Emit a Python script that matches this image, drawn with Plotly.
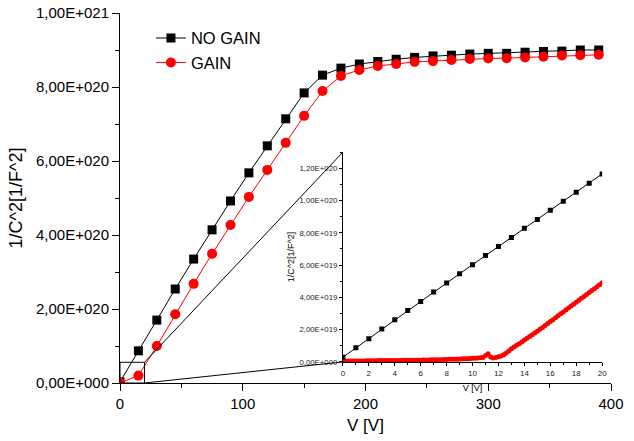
import plotly.graph_objects as go

# ---------------- data ----------------
main_v = [0, 15, 30, 45, 60, 75, 90, 105, 120, 135, 150, 165, 180, 195, 210,
          225, 240, 255, 270, 285, 300, 315, 330, 345, 360, 375, 390]
no_gain_e20 = [0.03, 0.87, 1.70, 2.54, 3.35, 4.14, 4.92, 5.68, 6.41, 7.14, 7.84,
               8.32, 8.51, 8.62, 8.69, 8.75, 8.80, 8.84, 8.86, 8.89, 8.91, 8.91,
               8.94, 8.96, 8.97, 9.00, 9.00]
gain_e20 = [0.005, 0.20, 1.00, 1.86, 2.68, 3.49, 4.27, 5.03, 5.76, 6.49, 7.22,
            7.89, 8.30, 8.46, 8.57, 8.62, 8.68, 8.70, 8.73, 8.76, 8.77, 8.78,
            8.80, 8.82, 8.85, 8.86, 8.87]

inset_v_ng = list(range(0, 21))
inset_no_gain_e19 = [0.29, 0.87, 1.44, 2.04, 2.62, 3.18, 3.75, 4.33, 4.89, 5.46,
                     6.02, 6.60, 7.15, 7.71, 8.29, 8.82, 9.40, 9.96, 10.52,
                     11.07, 11.65]

inset_v_g = [round(i * 0.2, 1) for i in range(101)]
inset_gain_e19 = [
    0.05, 0.05, 0.05, 0.05, 0.06, 0.06, 0.06, 0.06, 0.06, 0.07,
    0.07, 0.07, 0.07, 0.07, 0.08, 0.08, 0.08, 0.08, 0.08, 0.09,
    0.09, 0.09, 0.09, 0.10, 0.10, 0.10, 0.10, 0.11, 0.11, 0.11,
    0.11, 0.12, 0.12, 0.12, 0.13, 0.13, 0.13, 0.14, 0.14, 0.15,
    0.15, 0.16, 0.16, 0.17, 0.17, 0.18, 0.19, 0.19, 0.20, 0.21,
    0.22, 0.23, 0.24, 0.26, 0.28, 0.40, 0.50, 0.30, 0.24, 0.27,
    0.32, 0.37, 0.45, 0.55, 0.68, 0.82, 0.92, 1.03, 1.13, 1.24,
    1.35, 1.46, 1.57, 1.68, 1.79, 1.90, 2.02, 2.14, 2.26, 2.38,
    2.50, 2.62, 2.74, 2.86, 2.98, 3.10, 3.22, 3.34, 3.46, 3.58,
    3.70, 3.82, 3.94, 4.06, 4.18, 4.30, 4.42, 4.54, 4.66, 4.78,
    4.90]

main_ytickvals = [0, 2e20, 4e20, 6e20, 8e20, 1e21]
main_yticktext = ["0,00E+000", "2,00E+020", "4,00E+020", "6,00E+020",
                  "8,00E+020", "1,00E+021"]
main_xtickvals = [0, 100, 200, 300, 400]

inset_ytickvals = [0, 2e19, 4e19, 6e19, 8e19, 1e20, 1.2e20]
inset_yticktext = ["0,00E+000", "2,00E+019", "4,00E+019", "6,00E+019",
                   "8,00E+019", "1,00E+020", "1,20E+020"]
inset_xtickvals = [0, 2, 4, 6, 8, 10, 12, 14, 16, 18, 20]

# zoom window in the main chart
zoom_x1 = 20
zoom_y1 = 5.6e19

# layout geometry
inset_xdom = [0.454, 0.982]
inset_ydom = [0.057, 0.624]
main_xrange = [0, 400]
main_yrange = [0, 1e21]
inset_xrange = [0, 20]
inset_yrange = [0, 1.3e20]

FONT = "Liberation Sans, Arial, sans-serif"
RED = "#ff0000"

fig = go.Figure()

fig.add_trace(go.Scatter(
    x=main_v, y=[v * 1e20 for v in no_gain_e20], name="NO GAIN",
    mode="lines+markers", line=dict(color="black", width=1),
    marker=dict(symbol="square", size=9, color="black"),
    xaxis="x", yaxis="y"))
fig.add_trace(go.Scatter(
    x=main_v, y=[v * 1e20 for v in gain_e20], name="GAIN",
    mode="lines+markers", line=dict(color=RED, width=1),
    marker=dict(symbol="circle", size=10, color=RED),
    xaxis="x", yaxis="y"))

fig.add_trace(go.Scatter(
    x=inset_v_g, y=[v * 1e19 for v in inset_gain_e19], showlegend=False,
    mode="lines+markers", line=dict(color=RED, width=1),
    marker=dict(symbol="circle", size=5, color=RED),
    xaxis="x2", yaxis="y2"))
fig.add_trace(go.Scatter(
    x=inset_v_ng, y=[v * 1e19 for v in inset_no_gain_e19], showlegend=False,
    mode="lines+markers", line=dict(color="black", width=1),
    marker=dict(symbol="square", size=5, color="black"),
    xaxis="x2", yaxis="y2"))

axis_common = dict(showgrid=False, zeroline=False, showline=True,
                   linecolor="black", linewidth=1, tickcolor="black")

fig.update_layout(
    width=634, height=441,
    margin=dict(l=120, r=23, t=13, b=58),
    paper_bgcolor="white", plot_bgcolor="white",
    font=dict(family=FONT, color="black"),
    xaxis=dict(domain=[0, 1], range=main_xrange, anchor="y",
               tickvals=main_xtickvals, ticks="outside", ticklen=7,
               tickfont=dict(size=15),
               minor=dict(dtick=50, ticks="outside", ticklen=4, tickcolor="black"),
               title=dict(text="V [V]", font=dict(size=17), standoff=8),
               automargin=False, **axis_common),
    yaxis=dict(domain=[0, 1], range=main_yrange, anchor="x",
               tickvals=main_ytickvals, ticktext=main_yticktext,
               ticks="outside", ticklen=7, tickfont=dict(size=15),
               minor=dict(dtick=1e20, ticks="outside", ticklen=4, tickcolor="black"),
               title=dict(text="1/C^2[1/F^2]", font=dict(size=18), standoff=8),
               automargin=False, **axis_common),
    xaxis3=dict(overlaying="x", side="top", anchor="y", range=main_xrange,
                tickvals=main_xtickvals, ticks="inside", ticklen=7,
                showticklabels=False,
                minor=dict(dtick=50, ticks="inside", ticklen=4, tickcolor="black"),
                **axis_common),
    yaxis3=dict(overlaying="y", side="right", anchor="x", range=main_yrange,
                tickvals=main_ytickvals, ticks="inside", ticklen=7,
                showticklabels=False,
                minor=dict(dtick=1e20, ticks="inside", ticklen=4, tickcolor="black"),
                **axis_common),
    xaxis2=dict(domain=inset_xdom, range=inset_xrange, anchor="y2",
                tickvals=inset_xtickvals, ticks="outside", ticklen=3,
                tickfont=dict(size=8, color="#222"),
                minor=dict(dtick=1, ticks="outside", ticklen=2, tickcolor="black"),
                title=dict(text="V [V]", font=dict(size=9), standoff=8),
                automargin=False, **axis_common),
    yaxis2=dict(domain=inset_ydom, range=inset_yrange, anchor="x2",
                tickvals=inset_ytickvals, ticktext=inset_yticktext,
                ticks="outside", ticklen=3, tickfont=dict(size=7.8, color="#222"),
                minor=dict(dtick=1e19, ticks="outside", ticklen=2, tickcolor="black"),
                title=dict(text="1/C^2[1/F^2]", font=dict(size=9), standoff=3),
                automargin=False, **axis_common),
    xaxis4=dict(overlaying="x2", side="top", anchor="y2", range=inset_xrange,
                tickvals=inset_xtickvals, ticks="inside", ticklen=3,
                showticklabels=False,
                minor=dict(dtick=1, ticks="inside", ticklen=2, tickcolor="black"),
                **axis_common),
    yaxis4=dict(overlaying="y2", side="right", anchor="x2", range=inset_yrange,
                tickvals=inset_ytickvals, ticks="inside", ticklen=3,
                showticklabels=False,
                minor=dict(dtick=1e19, ticks="inside", ticklen=2, tickcolor="black"),
                **axis_common),
    legend=dict(x=0.063, y=0.979, xanchor="left", yanchor="top",
                bgcolor="rgba(0,0,0,0)", font=dict(size=16.5),
                tracegroupgap=0, itemsizing="trace"),
    showlegend=True,
)

# zoom rectangle and connector lines
fig.add_shape(type="rect", xref="x", yref="y", x0=0, x1=zoom_x1, y0=0, y1=zoom_y1,
              line=dict(color="black", width=1))
zx = zoom_x1 / (main_xrange[1] - main_xrange[0])
zy = zoom_y1 / (main_yrange[1] - main_yrange[0])
fig.add_shape(type="line", xref="paper", yref="paper",
              x0=zx, y0=zy, x1=inset_xdom[0], y1=inset_ydom[1],
              line=dict(color="black", width=1))
fig.add_shape(type="line", xref="paper", yref="paper",
              x0=zx, y0=0, x1=inset_xdom[0], y1=inset_ydom[0],
              line=dict(color="black", width=1))

fig.write_html("out.html", config={"displayModeBar": False},
               post_script="document.body.style.margin='0';document.body.style.padding='0';")
